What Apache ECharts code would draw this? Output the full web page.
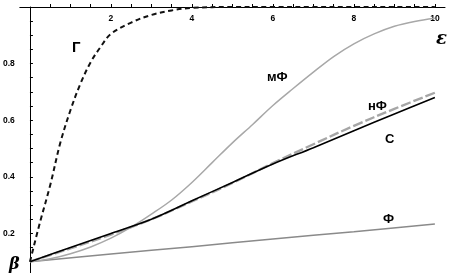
<!DOCTYPE html>
<html><head><meta charset="utf-8">
<script src="https://cdn.jsdelivr.net/npm/echarts@6/dist/echarts.min.js"></script>
<style>html,body{margin:0;padding:0;background:#fff}#c{width:450px;height:273px}</style>
</head><body><div id="c"></div>
<script>
// tick values
const xTickValues = [0.5,1,1.5,2,2.5,3,3.5,4,4.5,5,5.5,6,6.5,7,7.5,8,8.5,9,9.5,10];
const xLabelValues = [2,4,6,8,10];
const yTickValues = [0.1,0.15,0.2,0.25,0.3,0.35,0.4,0.45,0.5,0.55,0.6,0.65,0.7,0.75,0.8,0.85,0.9,0.95];
const yLabelValues = [0.2,0.4,0.6,0.8];

// Г (dashed black)
const gammaX = [0,0.25,0.5,0.75,1,1.25,1.5,1.75,2,2.5,3,3.5,4,5,6,7,8,9,10];
const gammaY = [0.1,0.24,0.37,0.52,0.635,0.73,0.805,0.86,0.905,0.945,0.972,0.988,0.997,1,1,1,1,1,1];
// мФ (light gray)
const mfX = [0,0.5,1,1.5,2,2.5,3,3.5,4,4.5,5,5.5,6,6.5,7,7.5,8,8.5,9,9.5,10];
const mfY = [0.1,0.11,0.128,0.152,0.183,0.222,0.268,0.318,0.38,0.45,0.52,0.585,0.652,0.712,0.77,0.825,0.87,0.905,0.932,0.949,0.96];
// нФ (gray dashed)
const nfX = [0,1,2,3,4,5,6,7,8,9,10];
const nfY = [0.1,0.147,0.196,0.25,0.313,0.378,0.448,0.515,0.58,0.64,0.697];
// С (black)
const cX = [0,1,2,3,4,5,6,7,8,9,10];
const cY = [0.1,0.15,0.2,0.25,0.315,0.38,0.445,0.503,0.563,0.622,0.68];
// Ф (gray)
const fX = [0,2,4,6,8,10];
const fY = [0.1,0.127,0.153,0.18,0.206,0.233];

const pairs = (xs, ys) => xs.map((x, i) => [x, ys[i]]);

const chart = echarts.init(document.getElementById('c'), null, {renderer: 'canvas'});
const lbl = (text, x, y, size, style, family) => ({
  type: 'text', left: x, top: y,
  style: {text, fill: '#000', font: (style || 'bold') + ' ' + size + 'px ' + (family || '"Liberation Sans", Arial, sans-serif'),
    textAlign: 'center', textVerticalAlign: 'middle'}
});
const base = {type: 'line', showSymbol: false, symbol: 'none', smooth: 0.35, animation: false, silent: true};

chart.setOption({
  animation: false,
  backgroundColor: '#fff',
  grid: {left: 12, right: 5, top: 7, bottom: 0, containLabel: false},
  xAxis: {
    type: 'value', position: 'top', min: -0.25, max: 10.25,
    axisLine: {onZero: false, lineStyle: {color: '#000', width: 1}},
    axisTick: {show: true, inside: false, length: 3, customValues: xTickValues, lineStyle: {color: '#000'}},
    axisLabel: {inside: true, margin: 7, customValues: xLabelValues, color: '#000',
      fontSize: 8.5, fontWeight: 'bold', fontFamily: '"Liberation Sans", Arial, sans-serif'},
    splitLine: {show: false}
  },
  yAxis: {
    type: 'value', min: 0.06, max: 1,
    axisLine: {show: true, onZero: true, lineStyle: {color: '#000', width: 1}},
    axisTick: {show: true, inside: true, length: 3, customValues: yTickValues, lineStyle: {color: '#000'}},
    axisLabel: {margin: 5, customValues: yLabelValues, color: '#000',
      fontSize: 8.5, fontWeight: 'bold', fontFamily: '"Liberation Sans", Arial, sans-serif'},
    splitLine: {show: false}
  },
  series: [
    Object.assign({}, base, {name: 'Ф', data: pairs(fX, fY), lineStyle: {color: '#8a8a8a', width: 1.5}}),
    Object.assign({}, base, {name: 'мФ', data: pairs(mfX, mfY), lineStyle: {color: '#a8a8a8', width: 1.5}}),
    Object.assign({}, base, {name: 'нФ', data: pairs(nfX, nfY), lineStyle: {color: '#a6a6a6', width: 2.4, type: [10, 3]}}),
    Object.assign({}, base, {name: 'С', data: pairs(cX, cY), lineStyle: {color: '#000', width: 1.6}}),
    Object.assign({}, base, {name: 'Г', data: pairs(gammaX, gammaY), lineStyle: {color: '#111', width: 2, type: [5, 3.5]}})
  ],
  graphic: [
    lbl('Г', 72, 40, 15),
    lbl('мФ', 267, 71, 13),
    lbl('нФ', 368, 100, 13),
    lbl('С', 385, 133, 13),
    lbl('Ф', 383, 213, 13),
    lbl('β', 9, 257, 16, 'bold italic', '"DejaVu Serif", serif'),
    lbl('ε', 436, 30, 18, 'bold italic', '"DejaVu Serif", serif')
  ]
});
</script>
</body></html>
